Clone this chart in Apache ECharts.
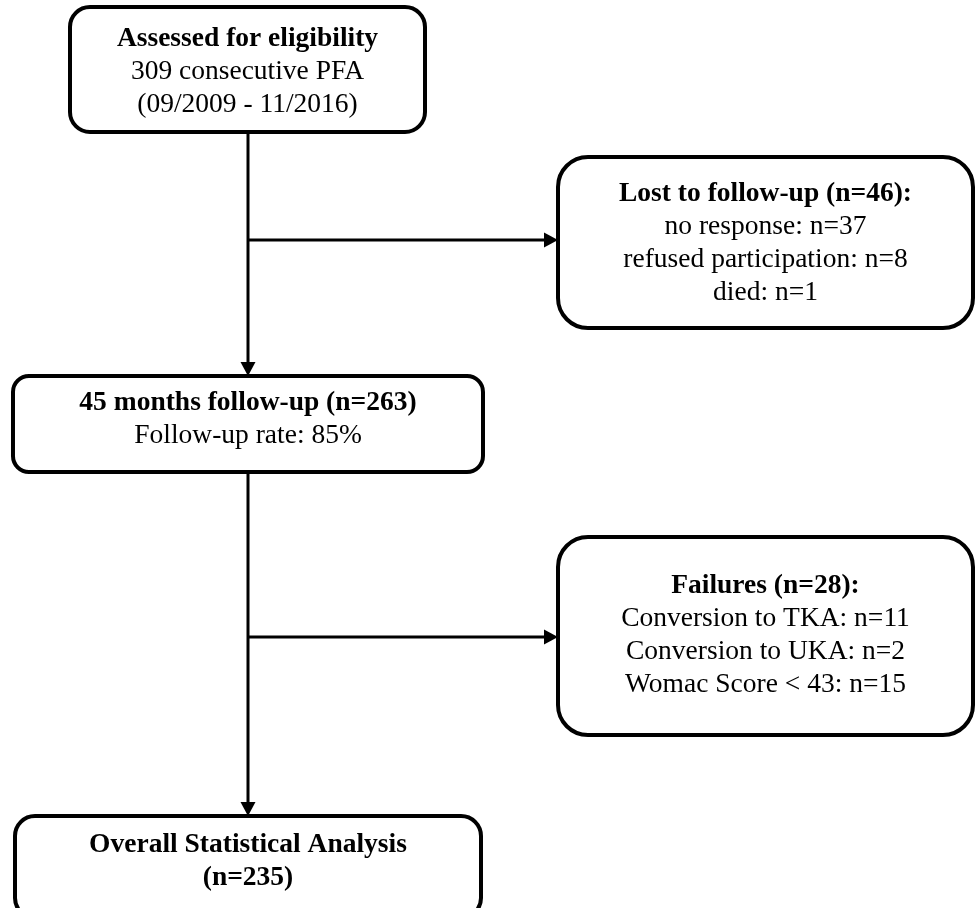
<!DOCTYPE html>
<html>
<head>
<meta charset="utf-8">
<script src="https://cdn.jsdelivr.net/npm/echarts@6/dist/echarts.min.js"></script>
<style>html,body{margin:0;padding:0;background:#fff;}#chart{width:976px;height:908px;}</style>
</head>
<body>
<div id="chart"></div>
<script>
const assessedN = 309;
const assessedPeriod = ['09/2009', '11/2016'];
const lostTotal = 46;
const lostReasons = ['no response', 'refused participation', 'died'];
const lostCounts = [37, 8, 1];
const followUpMonths = 45;
const followUpN = 263;
const followUpRate = 85;
const failureTotal = 28;
const failureReasons = ['Conversion to TKA', 'Conversion to UKA', 'Womac Score < 43'];
const failureCounts = [11, 2, 15];
const analysedN = 235;

// ---- box texts built from data ----
const boxTexts = [
  { bold: ['Assessed for eligibility'], normal: [assessedN + ' consecutive PFA', '(' + assessedPeriod[0] + ' - ' + assessedPeriod[1] + ')'] },
  { bold: ['Lost to follow-up (n=' + lostTotal + '):'], normal: lostReasons.map((r, i) => r + ': n=' + lostCounts[i]) },
  { bold: [followUpMonths + ' months follow-up (n=' + followUpN + ')'], normal: ['Follow-up rate: ' + followUpRate + '%'] },
  { bold: ['Failures (n=' + failureTotal + '):'], normal: failureReasons.map((r, i) => r + ': n=' + failureCounts[i]) },
  { bold: ['Overall Statistical Analysis', '(n=' + analysedN + ')'], normal: [] }
];

// ---- layout (page pixels) ----
const layoutBoxes = [
  { x0: 70, y0: 7, x1: 425, y1: 132, r: 20, ty: 72 },
  { x0: 558, y0: 157, x1: 973, y1: 328, r: 30, ty: 243 },
  { x0: 13, y0: 376, x1: 483, y1: 472, r: 16, ty: 419 },
  { x0: 558, y0: 537, x1: 973, y1: 735, r: 30, ty: 635 },
  { x0: 15, y0: 816, x1: 481, y1: 918, r: 20, ty: 861 }
];
const layoutArrows = [
  { from: [248, 132], to: [248, 376] },
  { from: [248, 240], to: [558, 240] },
  { from: [248, 472], to: [248, 816] },
  { from: [248, 637], to: [558, 637] }
];

const FONT = '"Liberation Serif", "Times New Roman", serif';
const FS = 27.5, LH = 33;

const chart = echarts.init(document.getElementById('chart'), null, { renderer: 'canvas' });

function boxRender(params, api) {
  const i = api.value(0);
  const b = layoutBoxes[i];
  const t = boxTexts[i];
  const p0 = api.coord([b.x0, b.y0]);
  const p1 = api.coord([b.x1, b.y1]);
  const cy = api.coord([0, b.ty])[1];
  const lines = t.bold.map(s => '{b|' + s + '}').concat(t.normal.map(s => '{n|' + s + '}'));
  return {
    type: 'group',
    children: [
      {
        type: 'rect',
        shape: { x: p0[0], y: p0[1], width: p1[0] - p0[0], height: p1[1] - p0[1], r: b.r },
        style: { fill: '#ffffff', stroke: '#000000', lineWidth: 4 }
      },
      {
        type: 'text',
        x: (p0[0] + p1[0]) / 2,
        y: cy,
        style: {
          text: lines.join('\n'),
          align: 'center',
          verticalAlign: 'middle',
          fontFamily: FONT,
          fontSize: FS,
          lineHeight: LH,
          fill: '#000',
          rich: {
            b: { fontFamily: FONT, fontSize: FS, fontWeight: 'bold', lineHeight: LH, fill: '#000', align: 'center' },
            n: { fontFamily: FONT, fontSize: FS, fontWeight: 'normal', lineHeight: LH, fill: '#000', align: 'center' }
          }
        }
      }
    ]
  };
}

function arrowRender(params, api) {
  const a = layoutArrows[api.value(0)];
  const s = api.coord(a.from);
  const e = api.coord(a.to);
  const dx = e[0] - s[0], dy = e[1] - s[1];
  const len = Math.sqrt(dx * dx + dy * dy);
  const ux = dx / len, uy = dy / len;
  const L = 14, W = 7.5;
  const bx = e[0] - ux * L, by = e[1] - uy * L;
  return {
    type: 'group',
    children: [
      { type: 'line', shape: { x1: s[0], y1: s[1], x2: bx + ux * 2, y2: by + uy * 2 }, style: { stroke: '#000', lineWidth: 3 } },
      { type: 'polygon', shape: { points: [[e[0], e[1]], [bx - uy * W, by + ux * W], [bx + uy * W, by - ux * W]] }, style: { fill: '#000' } }
    ]
  };
}

chart.setOption({
  backgroundColor: '#ffffff',
  animation: false,
  grid: { left: 0, right: 0, top: 0, bottom: 0 },
  xAxis: { type: 'value', min: 0, max: 976, show: false },
  yAxis: { type: 'value', min: 0, max: 908, inverse: true, show: false },
  series: [
    { type: 'custom', name: 'connectors', renderItem: arrowRender, data: layoutArrows.map((_, i) => [i]), clip: false, silent: true, z: 1 },
    { type: 'custom', name: 'boxes', renderItem: boxRender, data: boxTexts.map((_, i) => [i]), clip: false, silent: true, z: 2 }
  ]
});
</script>
</body>
</html>
